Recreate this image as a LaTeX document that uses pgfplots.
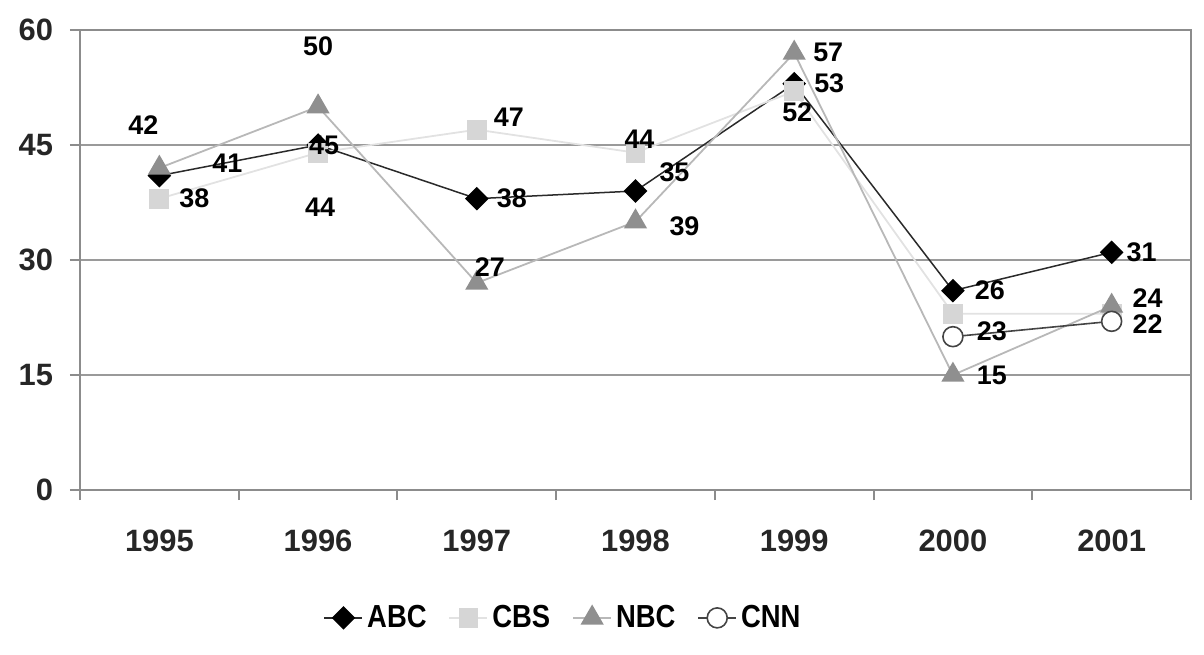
\documentclass[border=0pt]{standalone}
\usepackage{pgfplots}
\usepackage{pgfplotstable}
\usepackage{fontspec}
\pgfplotsset{compat=1.18}
\setmainfont{Liberation Sans}
\newfontfamily\legendfamily{Liberation Sans}[FakeStretch=0.86]

\newcommand\ticfont{\bfseries\fontsize{15.5}{15.5}\selectfont}
\newcommand\labfont{\bfseries\fontsize{13.5}{13.5}\selectfont}
\newcommand\legfont{\legendfamily\bfseries\fontsize{16}{16}\selectfont}

\definecolor{axisgray}{HTML}{8C8C8C}
\definecolor{gridgray}{HTML}{9A9A9A}
\definecolor{abcline}{HTML}{2A2A2A}
\definecolor{cbsfill}{HTML}{D6D6D6}
\definecolor{cbsline}{HTML}{E2E2E2}
\definecolor{nbcfill}{HTML}{8F8F8F}
\definecolor{nbcline}{HTML}{B8B8B8}
\definecolor{cnnline}{HTML}{444444}

% x = year index (0 = 1995), y = value,
% dx/dy = offset of the value label in bp, lab = 1 prints the value
\pgfplotstableread{
x y dx dy lab
0 41 34 6 1
1 45 3 0 1
2 38 17.5 0 1
3 39 24.5 -17.5 1
4 53 17.5 0 1
5 26 18.5 0 1
6 31 15 0 1
}\abcdata
\pgfplotstableread{
x y dx dy lab
0 38 17.5 0 1
1 44 1 -27.5 1
2 47 16 6 1
3 44 2 6.5 1
4 52 1.5 -10.5 1
5 23 19.5 -9 1
6 23 0 0 0
}\cbsdata
\pgfplotstableread{
x y dx dy lab
0 42 -8 21.5 1
1 50 0 30 1
2 27 6.5 8 1
3 35 19.5 24.5 1
4 57 17 0.5 1
5 15 19.5 0 1
6 24 18 4 1
}\nbcdata
\pgfplotstableread{
x y dx dy lab
5 20 0 0 0
6 22 18 -1.5 1
}\cnndata

\pgfplotsset{
  valuelabels/.style={
    draw=none, mark=none, forget plot,
    point meta=y,
    visualization depends on={\thisrow{dx}\as\ldx},
    visualization depends on={\thisrow{dy}\as\ldy},
    visualization depends on={\thisrow{lab}\as\lab},
    nodes near coords={\ifdim\lab pt>0.5pt \pgfmathprintnumber{\pgfplotspointmeta}\fi},
    every node near coord/.append style={anchor=center, inner sep=0pt,
      xshift=\ldx bp, yshift=\ldy bp, font=\labfont, text=black},
  },
}

\begin{document}
\begin{tikzpicture}
\useasboundingbox (-40bp,-82.5bp) rectangle (562bp,245bp);
\begin{axis}[
  scale only axis,
  width=555.5bp, height=230bp,
  xmin=-0.5, xmax=6.5,
  ymin=0, ymax=60,
  ytick={0,15,30,45,60},
  xtick={-0.5,0.5,...,6.5},
  xticklabels={},
  extra x ticks={0,1,2,3,4,5,6},
  extra x tick labels={1995,1996,1997,1998,1999,2000,2001},
  extra x tick style={major tick length=0pt, xticklabel style={yshift=-16.5bp}},
  yticklabel style={xshift=-5bp},
  tick pos=left,
  tick align=outside,
  major tick length=5bp,
  tick style={axisgray, line width=1bp},
  axis line style={axisgray, line width=1bp},
  ymajorgrids,
  grid style={gridgray, line width=0.9bp},
  ticklabel style={font=\ticfont, text=black!85},
  /pgf/number format/assume math mode=true,
  clip=false,
  legend columns=4,
  legend style={draw=none, fill=none, at={(0.4357,-0.278)}, anchor=center,
    font=\legfont, inner sep=0pt,
    /tikz/every even column/.append style={column sep=9bp}},
  legend image code/.code={\draw[mark repeat=2,mark phase=2]
    plot coordinates {(0bp,0bp) (9.5bp,0bp) (19bp,0bp)};},
]
% series lines and markers
\addplot[abcline, line width=0.75bp, mark=square*, mark size=3.8bp,
  mark options={rotate=45, fill=black, draw=black}]
  table[x=x, y=y] {\abcdata};
\addlegendentry{ABC}
\addplot[cbsline, line width=0.9bp, mark=square*, mark size=4.5bp,
  mark options={fill=cbsfill, draw=cbsfill}]
  table[x=x, y=y] {\cbsdata};
\addlegendentry{CBS}
\addplot[nbcline, line width=0.9bp, mark=triangle*, mark size=5.8bp,
  mark options={fill=nbcfill, draw=nbcfill}]
  table[x=x, y=y] {\nbcdata};
\addlegendentry{NBC}
\addplot[cnnline, line width=0.8bp, mark=*, mark size=5bp,
  mark options={fill=white, draw=cnnline, line width=0.8bp}]
  table[x=x, y=y] {\cnndata};
\addlegendentry{CNN}
% value labels, drawn on top of every series
\addplot[valuelabels] table[x=x, y=y] {\abcdata};
\addplot[valuelabels] table[x=x, y=y] {\cbsdata};
\addplot[valuelabels] table[x=x, y=y] {\nbcdata};
\addplot[valuelabels] table[x=x, y=y] {\cnndata};
\end{axis}
\end{tikzpicture}
\end{document}
